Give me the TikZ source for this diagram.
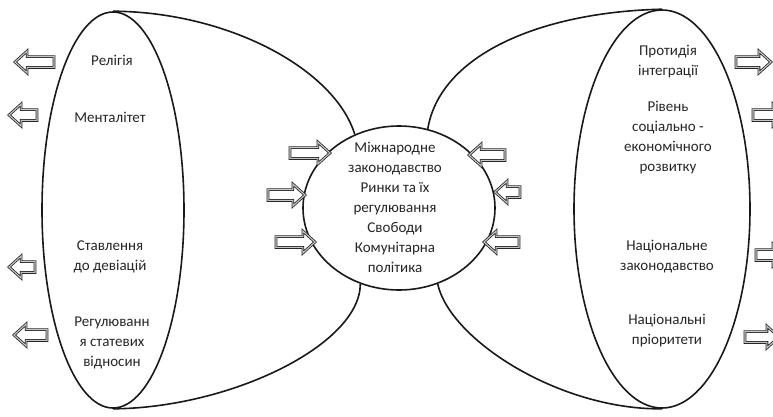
\documentclass[tikz,border=0pt]{standalone}
\usepackage{fontspec}
\setmainfont{Carlito}
\usetikzlibrary{shapes.geometric,shapes.arrows}
\begin{document}
\begin{tikzpicture}[x=1pt,y=-1pt,
  outline/.style={draw=black!90, line width=1.6pt},
  oval/.style={outline, ellipse, inner sep=0pt},
  lbl/.style={align=center, font=\fontsize{15}{20}\selectfont, text=black!85, inner sep=0pt},
  barrow/.style={single arrow, draw=black!85, line width=0.8pt, double=gray!45, double distance=1.1pt,
    fill=white, inner xsep=0pt, inner ysep=5pt, minimum width=0pt, single arrow head extend=5.5pt,
    single arrow tip angle=84},
  barrowl/.style={barrow, shape border rotate=180},
  ]
\useasboundingbox (0,0) rectangle (773,416);
\clip (0,0) rectangle (773,416);
\fill[white] (0,0) rectangle (773,416);

% main ovals
\node[oval, minimum width=142pt, minimum height=396pt] (L) at (113,210) {};
\node[oval, minimum width=176pt, minimum height=398pt] (R) at (662,209) {};
\node[oval, minimum width=192pt, minimum height=164pt] (C) at (399,208) {};

% connecting curves
\draw[outline] (L.north) .. controls (230,12) and (335,70) .. (C.121);
\draw[outline] (L.south) .. controls (230,408) and (360,345) .. (C.243);
\draw[outline] (R.north) .. controls (540,12) and (440,55) .. (C.70);
\draw[outline] (C.297) .. controls (450,340) and (560,410) .. (R.south);

% texts
\node[lbl] (t1) at (112,60) {Релігія};
\node[lbl] (t2) at (110,117) {Менталітет};
\node[lbl] (t3) at (110,257) {Ставлення\\до девіацій};
\node[lbl] (t4) at (112,343) {Регулюванн\\я статевих\\відносин};
\node[lbl] (t5) at (668,62) {Протидія\\інтеграції};
\node[lbl] (t6) at (668,138) {Рівень\\соціально -\\економічного\\розвитку};
\node[lbl] (t7) at (667,257) {Національне\\законодавство};
\node[lbl] (t8) at (667,331) {Національні\\пріоритети};
\node[lbl] (tc) at (395,207) {Міжнародне\\законодавство\\Ринки та їх\\регулювання\\Свободи\\Комунітарна\\політика};

% block arrows, left side
\node[barrowl, minimum height=39pt] (a1) at (37.5,62) {};
\node[barrowl, minimum height=28pt] (a2) at (26,115) {};
\node[barrowl, minimum height=26pt] (a3) at (25,267) {};
\node[barrowl, minimum height=33pt] (a4) at (33.5,335) {};
% centre, from the left
\node[barrow, minimum height=40pt] (b1) at (307,153) {};
\node[barrow, minimum height=37pt] (b2) at (283.5,195) {};
\node[barrow, minimum height=39pt] (b3) at (292.5,242) {};
% centre, from the right
\node[barrowl, minimum height=36pt] (b4) at (490,155) {};
\node[barrowl, minimum height=25pt] (b5) at (510.5,192) {};
\node[barrowl, minimum height=35pt] (b6) at (504.5,242) {};
% right side
\node[barrow, minimum height=35pt] (d1) at (750.5,62) {};
\node[barrow, minimum height=32pt] (d2) at (766,115) {};
\node[barrow, minimum height=29pt] (d3) at (767.5,255) {};
\node[barrow, minimum height=34pt] (d4) at (759,337) {};
\end{tikzpicture}
\end{document}
